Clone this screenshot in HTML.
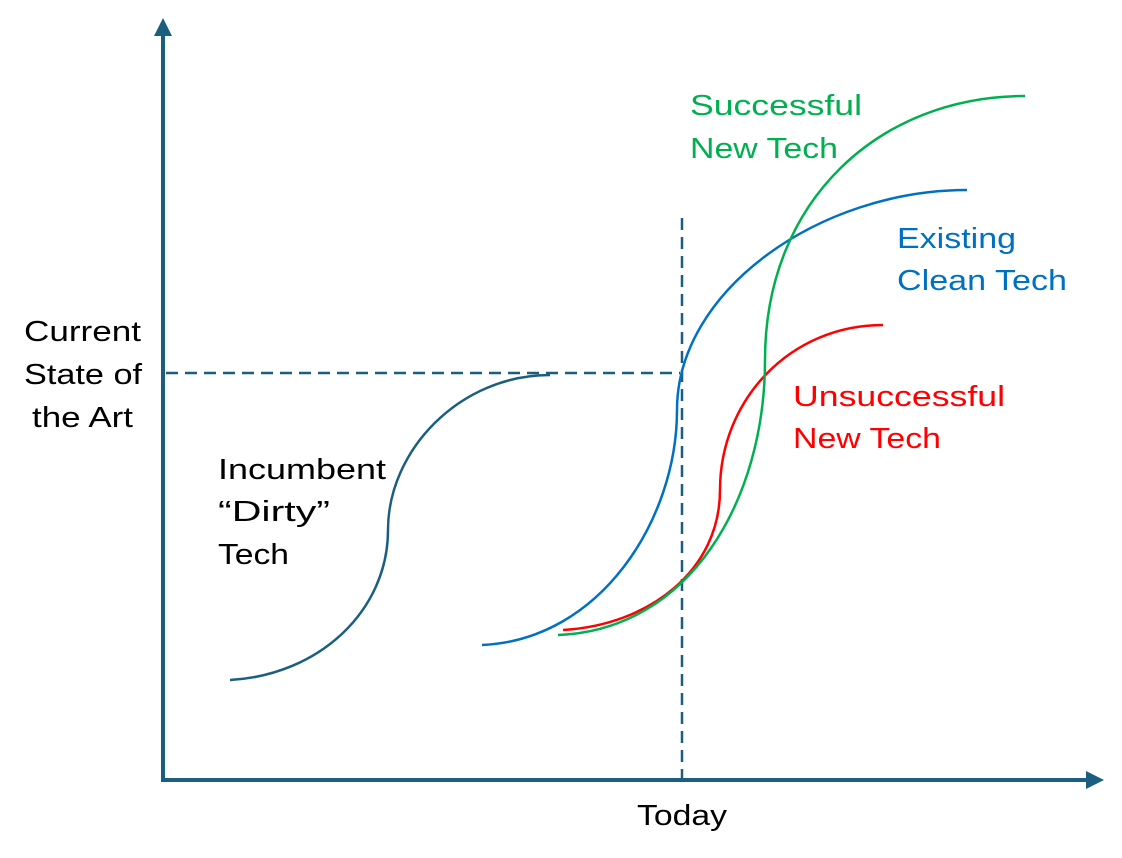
<!DOCTYPE html>
<html><head><style>
html,body{margin:0;padding:0;background:#fff;}
svg{display:block;}
text{font-family:"Liberation Sans",sans-serif;font-size:29px;}
</style></head><body>
<svg width="1122" height="858" viewBox="0 0 1122 858">
<g stroke="#1a5f80" stroke-width="4" fill="none">
<line x1="163" y1="780" x2="163" y2="34"/>
<line x1="161" y1="780" x2="1088" y2="780"/>
</g>
<polygon points="154,36 172,36 163,18" fill="#1a5f80"/>
<polygon points="1086,771 1086,789 1104,780" fill="#1a5f80"/>
<g stroke="#1a5f80" stroke-width="2.5" stroke-dasharray="12,7" fill="none">
<line x1="166" y1="373" x2="680" y2="373"/>
<line x1="682" y1="218" x2="682" y2="778"/>
</g>
<g fill="none" stroke-width="2.5">
<path d="M230,680 C320,675 388,610 388,530 C388,450 460,375 550,375" stroke="#1a5f80"/>
<path d="M482,645 C600,640 677,520 677,410 C677,290 820,190 967,190" stroke="#0070c0"/>
<path d="M563,630 C650,625 720,570 720,490 C720,400 790,325 883,325" stroke="#ff0000"/>
<path d="M558,635 C690,630 765,500 765,360 C765,200 880,96 1025,96" stroke="#00b050"/>
</g>
<g fill="#000" lengthAdjust="spacingAndGlyphs">
<text x="24" y="341" textLength="117" lengthAdjust="spacingAndGlyphs">Current</text>
<text x="24" y="384" textLength="118" lengthAdjust="spacingAndGlyphs">State of</text>
<text x="32" y="427" textLength="101" lengthAdjust="spacingAndGlyphs">the Art</text>
<text x="218" y="479" textLength="168" lengthAdjust="spacingAndGlyphs">Incumbent</text>
<text x="218" y="521" textLength="112" lengthAdjust="spacingAndGlyphs">“Dirty”</text>
<text x="218" y="564" textLength="71" lengthAdjust="spacingAndGlyphs">Tech</text>
<text x="637" y="825" textLength="90" lengthAdjust="spacingAndGlyphs">Today</text>
</g>
<g fill="#00b050"><text x="690" y="115" textLength="172" lengthAdjust="spacingAndGlyphs">Successful</text><text x="690" y="158" textLength="148" lengthAdjust="spacingAndGlyphs">New Tech</text></g>
<g fill="#0070c0"><text x="897" y="248" textLength="119" lengthAdjust="spacingAndGlyphs">Existing</text><text x="897" y="290" textLength="170" lengthAdjust="spacingAndGlyphs">Clean Tech</text></g>
<g fill="#ff0000"><text x="793" y="406" textLength="212" lengthAdjust="spacingAndGlyphs">Unsuccessful</text><text x="793" y="448" textLength="148" lengthAdjust="spacingAndGlyphs">New Tech</text></g>
</svg>
</body></html>
